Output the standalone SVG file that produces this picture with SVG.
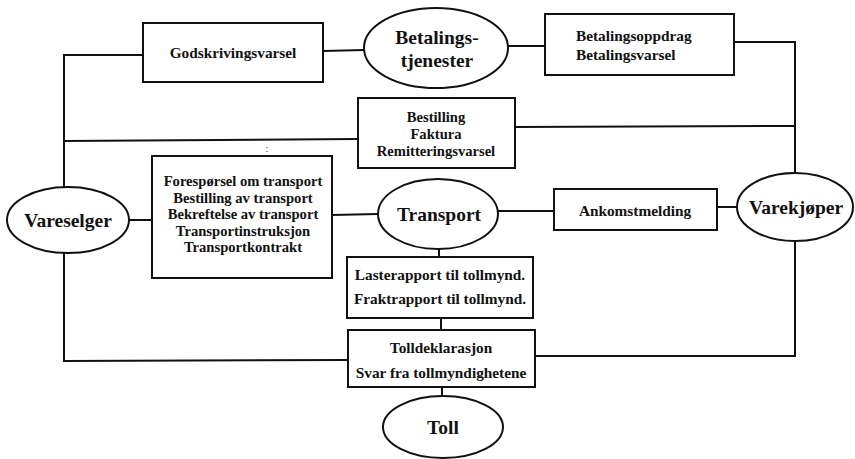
<svg xmlns="http://www.w3.org/2000/svg" width="855" height="459" viewBox="0 0 855 459">
<style>
.bx{fill:#fff;stroke:#111;stroke-width:2}
.el{fill:#fff;stroke:#111;stroke-width:2}
.ln{fill:none;stroke:#111;stroke-width:2}
.t{font-family:"Liberation Serif","Times New Roman",serif;font-weight:bold;font-size:15.3px;fill:#111;text-anchor:middle}
.s{font-size:14.6px}
.e{font-family:"Liberation Serif","Times New Roman",serif;font-weight:bold;font-size:19.5px;fill:#111;text-anchor:middle}
</style>
<rect width="855" height="459" fill="#fff"/>
<g id="connectors">
<polyline class="ln" points="143,55 64,55 64,188"/>
<line class="ln" x1="323" y1="51" x2="364" y2="50"/>
<line class="ln" x1="508" y1="46" x2="545" y2="46"/>
<polyline class="ln" points="734,42 795,42 795,173"/>
<line class="ln" x1="64" y1="141" x2="358" y2="139"/>
<line class="ln" x1="515" y1="127" x2="795" y2="126"/>
<line class="ln" x1="129" y1="220" x2="152" y2="220"/>
<line class="ln" x1="332" y1="215" x2="378" y2="214"/>
<line class="ln" x1="498" y1="211" x2="554" y2="211"/>
<line class="ln" x1="717" y1="207" x2="738" y2="207"/>
<line class="ln" x1="439" y1="249" x2="439" y2="257"/>
<line class="ln" x1="441" y1="318" x2="441" y2="330"/>
<polyline class="ln" points="64,253 64,361 348,360"/>
<polyline class="ln" points="795,241 795,356 535,356"/>
<line class="ln" x1="442" y1="387" x2="442" y2="396"/>
</g>
<g id="godskrivingsvarsel">
<rect class="bx" x="143" y="23" width="180" height="59"/>
<text class="t" x="233" y="58">Godskrivingsvarsel</text>
</g>
<g id="betalingstjenester">
<ellipse class="el" cx="436" cy="48" rx="72" ry="40"/>
<text class="e" x="437" y="44">Betalings-</text>
<text class="e" x="437" y="67">tjenester</text>
</g>
<g id="betalingsoppdrag">
<rect class="bx" x="545" y="14" width="189" height="61"/>
<text class="t" x="576" y="41" style="text-anchor:start">Betalingsoppdrag</text>
<text class="t" x="576" y="60" style="text-anchor:start">Betalingsvarsel</text>
</g>
<g id="bestilling">
<rect class="bx" x="358" y="98" width="157" height="70"/>
<text class="t s" x="436" y="122">Bestilling</text>
<text class="t s" x="436" y="139">Faktura</text>
<text class="t s" x="436" y="156">Remitteringsvarsel</text>
</g>
<text x="267" y="152" style="font-family:'Liberation Serif',serif;font-size:10px;fill:#333;text-anchor:middle">:</text>
<g id="vareselger">
<ellipse class="el" cx="68" cy="220" rx="61" ry="33"/>
<text class="e" x="68" y="227">Vareselger</text>
</g>
<g id="transportmeldinger">
<rect class="bx" x="152" y="156" width="180" height="122"/>
<text class="t s" x="243" y="186">Forespørsel om transport</text>
<text class="t s" x="243" y="202.5">Bestilling av transport</text>
<text class="t s" x="243" y="219">Bekreftelse av transport</text>
<text class="t s" x="243" y="235.5">Transportinstruksjon</text>
<text class="t s" x="243" y="252">Transportkontrakt</text>
</g>
<g id="transport">
<ellipse class="el" cx="438" cy="214" rx="60" ry="35"/>
<text class="e" x="439" y="221">Transport</text>
</g>
<g id="ankomstmelding">
<rect class="bx" x="554" y="189" width="163" height="41"/>
<text class="t" x="635" y="216">Ankomstmelding</text>
</g>
<g id="varekjoper">
<ellipse class="el" cx="795" cy="207" rx="58" ry="34"/>
<text class="e" x="796" y="214">Varekjøper</text>
</g>
<g id="lasterapport">
<rect class="bx" x="347" y="257" width="186" height="61"/>
<text class="t" x="440" y="280">Lasterapport til tollmynd.</text>
<text class="t" x="440" y="304">Fraktrapport til tollmynd.</text>
</g>
<g id="tolldeklarasjon">
<rect class="bx" x="348" y="330" width="187" height="57"/>
<text class="t" x="441" y="353">Tolldeklarasjon</text>
<text class="t" x="441" y="378">Svar fra tollmyndighetene</text>
</g>
<g id="toll">
<ellipse class="el" cx="443" cy="427" rx="60" ry="31"/>
<text class="e" x="443" y="434">Toll</text>
</g>
</svg>
